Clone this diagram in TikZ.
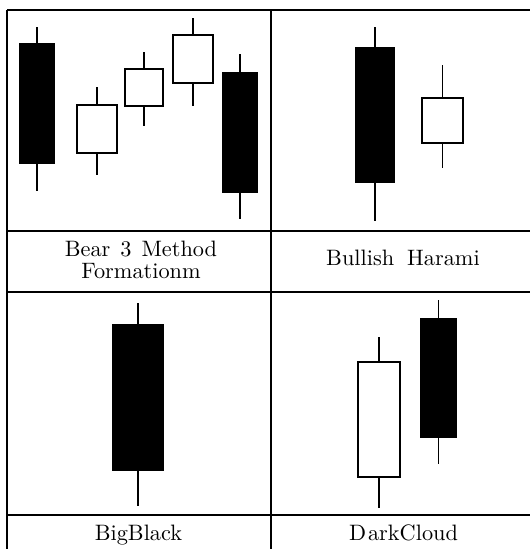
\documentclass[tikz,border=0pt]{standalone}
\usepackage{fontspec}
\setmainfont{lmroman10-regular}[Extension=.otf]
\tikzset{
  gridline/.style={line width=2pt, black},
  wick/.style={line width=1.5pt, black},
  bull/.style={draw=black, line width=1.7pt, fill=white},
  bear/.style={draw=black, line width=1.7pt, fill=black},
  lbl/.style={font=\fontsize{22.3}{21.7}\selectfont, inner sep=0pt, align=center, text=black},
}
\newcommand\candlestick[7]{%
  \draw[wick] ({(#1+#2)/2},#5) -- ({(#1+#2)/2},#6);
  \draw[#7] (#1,#3) rectangle (#2,#4);
}
\begin{document}
\begin{tikzpicture}[x=1pt,y=-1pt]
\useasboundingbox (0,0) rectangle (530,549);
% table grid
\coordinate (tl) at (7,9.5);
\coordinate (tr) at (530,9.5);
\coordinate (bl) at (7,549);
\coordinate (mt) at (270.5,9.5);
\coordinate (mb) at (270.5,549);
\coordinate (h1l) at (7,231);   \coordinate (h1r) at (530,231);
\coordinate (h2l) at (7,292);   \coordinate (h2r) at (530,292);
\coordinate (h3l) at (7,515);   \coordinate (h3r) at (530,515);
\draw[gridline] (tl) -- (tr);
\draw[gridline] (tl) -- (bl);
\draw[gridline] (mt) -- (mb);
\draw[gridline] (h1l) -- (h1r);
\draw[gridline] (h2l) -- (h2r);
\draw[gridline] (h3l) -- (h3r);
% panel 1: Bear 3 Method Formation
\candlestick{20}{54}{44}{163}{27}{191}{bear}
\candlestick{77}{117}{105}{153}{87}{175}{bull}
\candlestick{125}{163}{69}{106}{52}{126}{bull}
\candlestick{173}{213}{35}{83}{18}{106}{bull}
\candlestick{223}{257}{73}{192}{54}{219}{bear}
% panel 2: Bullish Harami
\candlestick{356}{394}{48}{182}{27}{221}{bear}
\candlestick{422}{463}{98}{143}{65}{168}{bull}
% panel 3: BigBlack
\candlestick{113}{163}{325}{470}{303}{506}{bear}
% panel 4: DarkCloud
\candlestick{358}{400}{362}{477}{337}{508}{bull}
\candlestick{421}{456}{319}{437}{300}{464}{bear}
% labels
\node[lbl, anchor=center] (l1) at (141,260.2) {Bear\hspace{10pt}3\hspace{10pt}Method\\Formationm};
\node[lbl, anchor=base] (l2) at (403,265) {Bullish\hspace{13pt}Harami};
\node[lbl, anchor=base] (l3) at (138.5,540) {BigBlack};
\node[lbl, anchor=base] (l4) at (403.5,540) {D\hspace{2pt}arkCloud};
\end{tikzpicture}
\end{document}
